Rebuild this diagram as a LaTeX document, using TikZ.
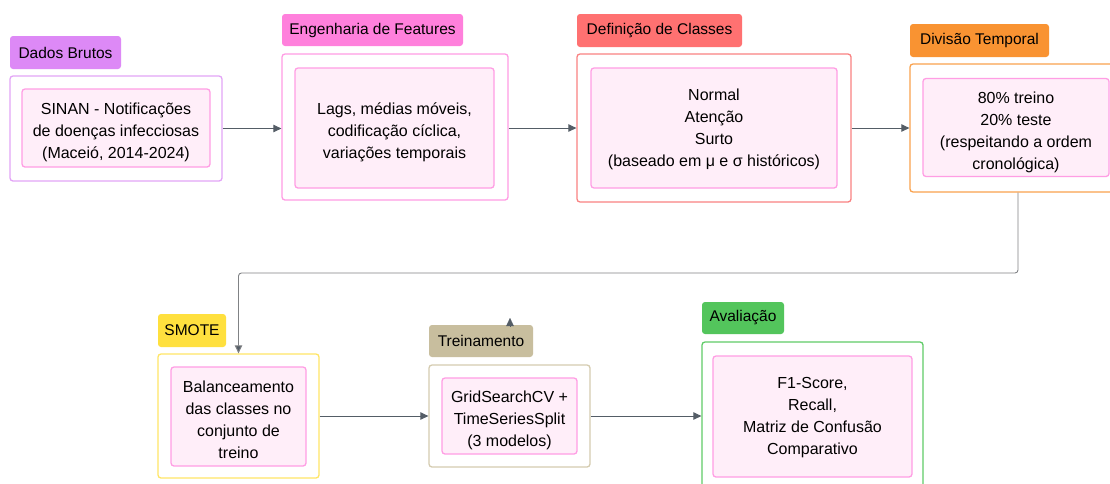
\documentclass[tikz,border=0pt]{standalone}
\usepackage{fontspec}
\setmainfont{Liberation Sans}
\usetikzlibrary{arrows.meta}
\definecolor{innerfill}{HTML}{FFEEF9}
\definecolor{innerdraw}{HTML}{FF9EE4}
\definecolor{arrowcol}{HTML}{545D66}
\definecolor{conncol}{HTML}{808285}
\definecolor{dadosL}{HTML}{DD89F6}
\definecolor{dadosB}{HTML}{E3A5F7}
\definecolor{engL}{HTML}{FF80DC}
\definecolor{engB}{HTML}{FF9CE4}
\definecolor{defL}{HTML}{FF7171}
\definecolor{defB}{HTML}{F98282}
\definecolor{divL}{HTML}{F99332}
\definecolor{divB}{HTML}{F9A24E}
\definecolor{smoL}{HTML}{FFE03E}
\definecolor{smoB}{HTML}{FFE666}
\definecolor{treL}{HTML}{C8BE9E}
\definecolor{treB}{HTML}{D5CCB0}
\definecolor{avaL}{HTML}{53C55C}
\definecolor{avaB}{HTML}{60CC68}
\tikzset{
  txt/.style={font={\fontsize{16}{22}\selectfont}, text=black, align=center, inner sep=0pt},
  lbl/.style={font={\fontsize{15.5}{22}\selectfont}, text=black, align=center, rectangle, rounded corners=3pt, inner sep=0pt},
  outerbox/.style={rectangle, rounded corners=3pt, fill=white, line width=1.3pt, inner sep=0pt},
  innerbox/.style={rectangle, rounded corners=3pt, fill=innerfill, draw=innerdraw, line width=1.3pt, inner sep=0pt},
  arr/.style={draw=arrowcol, line width=0.9pt, -{Triangle[length=8pt,width=7.5pt]}},
  conn/.style={draw=conncol, line width=0.9pt, rounded corners=3pt, -{Triangle[length=8pt,width=7.5pt,fill=arrowcol]}}
}
\begin{document}
\begin{tikzpicture}[x=1pt,y=-1pt]
\clip (0,0) rectangle (1110,483);
\fill[white] (0,0) rectangle (1110,483);

% Dados Brutos
\node[lbl, fill=dadosL, minimum width=111pt, minimum height=33pt] (dadosl) at (65.5,52.5) {Dados Brutos};
\node[outerbox, draw=dadosB, minimum width=212pt, minimum height=105pt] (dados) at (116,128.5) {};
\node[innerbox, minimum width=188pt, minimum height=78pt] (dadosi) at (116,128) {};
\node[txt] (dadost) at ([yshift=-4pt]dadosi.center) {SINAN - Notificações\\de doenças infecciosas\\(Maceió, 2014-2024)};

% Engenharia de Features
\node[lbl, fill=engL, minimum width=181pt, minimum height=32pt] (engl) at (372.5,30) {Engenharia de Features};
\node[outerbox, draw=engB, minimum width=226pt, minimum height=146pt] (eng) at (395,127) {};
\node[innerbox, minimum width=199pt, minimum height=120pt] (engi) at (394.5,128) {};
\node[txt] (engt) at ([yshift=-4pt]engi.center) {Lags, médias móveis,\\codificação cíclica,\\variações temporais};

% Definicao de Classes
\node[lbl, fill=defL, minimum width=165pt, minimum height=33pt] (defl) at (659.5,30.5) {Definição de Classes};
\node[outerbox, draw=defB, minimum width=274pt, minimum height=148pt] (def) at (714,128) {};
\node[innerbox, minimum width=246pt, minimum height=120pt] (defi) at (714,128) {};
\node[txt] (deft) at ([yshift=-1pt]defi.center) {Normal\\Atenção\\Surto\\(baseado em μ e σ históricos)};

% Divisao Temporal
\node[lbl, fill=divL, minimum width=139pt, minimum height=33pt] (divl) at (979.5,40.5) {Divisão Temporal};
\node[outerbox, draw=divB, minimum width=216pt, minimum height=128pt] (div) at (1018,128) {};
\node[innerbox, minimum width=186pt, minimum height=98pt] (divi) at (1016,127.5) {};
\node[txt] (divt) at ([yshift=-4.5pt]divi.center) {80\% treino\\20\% teste\\(respeitando a ordem\\cronológica)};

% SMOTE
\node[lbl, fill=smoL, minimum width=68pt, minimum height=33pt] (smotel) at (192,330.5) {SMOTE};
\node[outerbox, draw=smoB, minimum width=161pt, minimum height=124pt] (smote) at (238.5,416) {};
\node[innerbox, minimum width=135pt, minimum height=99pt] (smotei) at (238.5,416.5) {};
\node[txt] (smotet) at ([yshift=-3pt]smotei.center) {Balanceamento\\das classes no\\conjunto de\\treino};

% Treinamento
\node[lbl, fill=treL, minimum width=104pt, minimum height=32pt] (trel) at (481,341) {Treinamento};
\node[outerbox, draw=treB, minimum width=161pt, minimum height=102pt] (tre) at (509.5,416) {};
\node[innerbox, minimum width=135pt, minimum height=76pt] (trei) at (509.5,416) {};
\node[txt] (tret) at ([yshift=-4pt]trei.center) {GridSearchCV +\\TimeSeriesSplit\\(3 modelos)};

% Avaliacao
\node[lbl, fill=avaL, minimum width=82pt, minimum height=32pt] (aval) at (743,318) {Avaliação};
\node[outerbox, draw=avaB, minimum width=221pt, minimum height=148pt] (ava) at (812.5,416) {};
\node[innerbox, minimum width=199pt, minimum height=121pt] (avai) at (812.5,416.5) {};
\node[txt] (avat) at ([yshift=-1pt]avai.center) {F1-Score,\\Recall,\\Matriz de Confusão\\Comparativo};

% connectors
\draw[arr] (dados.east) -- (dados.east -| eng.west);
\draw[arr] (def.west -| eng.east) -- (def.west);
\draw[arr] (def.east) -- (div.west);
\coordinate (bend) at (238.5,273);
\draw[conn] (div.south) |- (bend) -- (smote.north);
\draw[arr] (smote.east) -- (tre.west);
\draw[arr] (tre.east) -- (ava.west);
\coordinate (stubbase) at (510,326);
\coordinate (stubtip) at (510,318);
\draw[draw=arrowcol, line width=0.1pt, -{Triangle[length=8pt,width=7.5pt,fill=arrowcol]}] (stubbase) -- (stubtip);
\end{tikzpicture}
\end{document}
